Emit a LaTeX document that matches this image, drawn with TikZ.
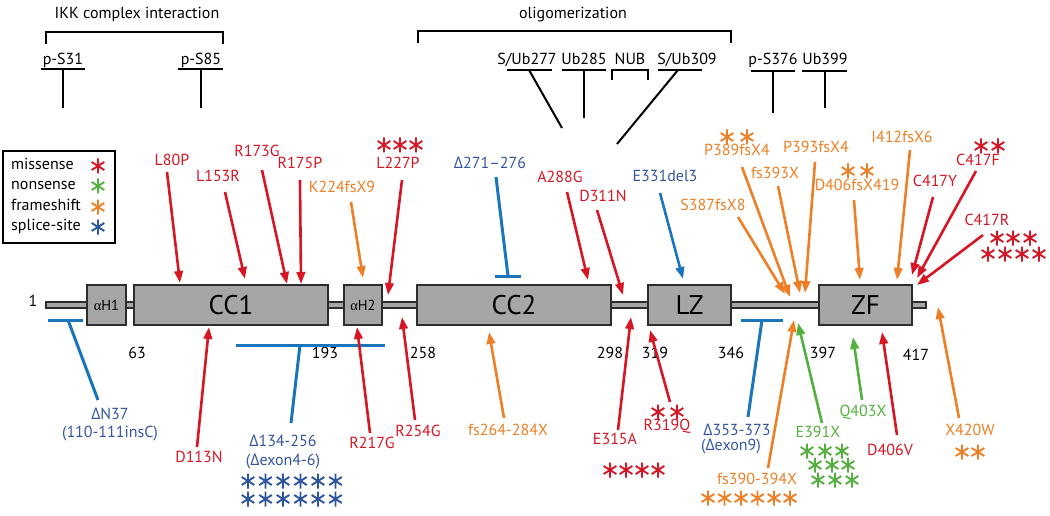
\documentclass[tikz,border=0pt]{standalone}
\usepackage{fontspec}
\setmainfont{PT Sans}
\newfontfamily\grk{Liberation Serif}
\newfontfamily\dfont{Open Sans}
\newcommand\Dl{{\dfont Δ}}
\usetikzlibrary{arrows.meta}
\definecolor{mred}{RGB}{214,22,36}
\definecolor{morange}{RGB}{238,127,38}
\definecolor{mgreen}{RGB}{84,176,62}
\definecolor{mblue}{RGB}{27,117,187}
\definecolor{mbtext}{RGB}{52,86,160}
\definecolor{mbast}{RGB}{45,85,155}
\definecolor{boxgray}{RGB}{166,166,166}
\definecolor{boxline}{RGB}{45,45,45}
% name, text colour, arrow colour, label position, text, start, end
\newcommand\mutarr[7]{%
  \node[lab,text=#2] (#1) at (#4) {#5};
  \coordinate (#1s) at (#6);
  \coordinate (#1e) at (#7);
  \draw[arr,#3] (#1s) -- (#1e);}
\newcommand\astrow[3]{\foreach \xx in {#3}{\pic[#1] at (\xx,#2) {ast};}}
\begin{document}
\begin{tikzpicture}[x=1pt,y=-1pt,
  lab/.style={font=\fontsize{16}{18}\selectfont, inner sep=0pt, text height=1.45ex, text depth=0.2ex},
  arr/.style={line width=2.6pt, -{Triangle[length=12pt,width=8.5pt]}},
  tline/.style={line width=3pt, draw=mblue},
  blk/.style={line width=2pt, draw=black},
  box/.style={draw=boxline, fill=boxgray, line width=1.2pt, inner sep=0pt, minimum height=40pt},
  ast/.pic={\draw[line width=1.9pt] (0,-7.5)--(0,7.5) (-6.3,-4)--(6.3,4) (-6.3,4)--(6.3,-4);}
]
\useasboundingbox (0,0) rectangle (1050,516);

% ---------- top annotations ----------
\node[lab] (ikk) at (137,15) {IKK complex interaction};
\coordinate (ikka) at (46,44); \coordinate (ikkb) at (223,44);
\draw[blk] (ikka) -- ++(0,-12) -| (ikkb);
\node[lab] (oli) at (573,15) {oligomerization};
\coordinate (olia) at (418,43); \coordinate (olib) at (731,43);
\draw[blk] (olia) -- ++(0,-12) -| (olib);

\node[lab] (ps31) at (63,61) {p-S31};
\draw[blk] (41,69) -- (85,69); \coordinate (ps31a) at (63,69); \coordinate (ps31b) at (63,108);
\draw[blk] (ps31a) -- (ps31b);
\node[lab] (ps85) at (201,61) {p-S85};
\draw[blk] (178,69) -- (223,69); \coordinate (ps85a) at (201,69); \coordinate (ps85b) at (201,108);
\draw[blk] (ps85a) -- (ps85b);

\node[lab] (sub277) at (527,61) {S/Ub277};
\draw[blk] (507,70) -- (552,70); \coordinate (sub277a) at (529,70); \coordinate (sub277b) at (562,128);
\draw[blk] (sub277a) -- (sub277b);
\node[lab] (ub285) at (584,61) {Ub285};
\draw[blk] (562,70) -- (606,70); \coordinate (ub285a) at (584,70); \coordinate (ub285b) at (584,118);
\draw[blk] (ub285a) -- (ub285b);
\node[lab] (nub) at (630,61) {NUB};
\draw[blk] (612,80) -- (612,70) -- (648,70) -- (648,80);
\node[lab] (sub309) at (687,61) {S/Ub309};
\draw[blk] (658,70) -- (702,70); \coordinate (sub309a) at (678,70); \coordinate (sub309b) at (617,144);
\draw[blk] (sub309a) -- (sub309b);
\node[lab] (ps376) at (773,61) {p-S376};
\draw[blk] (751,71) -- (795,71); \coordinate (ps376a) at (773,71); \coordinate (ps376b) at (773,113);
\draw[blk] (ps376a) -- (ps376b);
\node[lab] (ub399) at (825,61) {Ub399};
\draw[blk] (802,71) -- (847,71); \coordinate (ub399a) at (825,71); \coordinate (ub399b) at (825,108);
\draw[blk] (ub399a) -- (ub399b);

% ---------- legend ----------
\node[draw=black, line width=1.3pt, minimum width=112pt, minimum height=92pt, inner sep=0pt] (legend) at (59,197) {};
\node[lab, anchor=west] (lmis) at (11,166) {missense};
\node[lab, anchor=west] (lnon) at (11,186) {nonsense};
\node[lab, anchor=west] (lfra) at (11,207) {frameshift};
\node[lab, anchor=west] (lspl) at (11,227) {splice-site};
\pic[mred] at (98,166) {ast};
\pic[mgreen] at (98,186) {ast};
\pic[morange] at (98,207) {ast};
\pic[mbast] at (98,227) {ast};

% ---------- protein ----------
\node[draw=boxline, fill=boxgray, line width=1.1pt, inner sep=0pt, minimum width=880pt, minimum height=6pt] (bar) at (486,305) {};
\node[box, minimum width=39pt, font=\fontsize{14.5}{16}\selectfont] (ah1) at (106.5,305) {{\grk α}H1};
\node[box, minimum width=194pt, font=\fontsize{27}{30}\selectfont] (cc1) at (231,305) {CC1};
\node[box, minimum width=38pt, font=\fontsize{14.5}{16}\selectfont] (ah2) at (363,305) {{\grk α}H2};
\node[box, minimum width=194pt, font=\fontsize{27}{30}\selectfont] (cc2) at (514,305) {CC2};
\node[box, minimum width=83pt, font=\fontsize{27}{30}\selectfont] (lz) at (689.5,305) {LZ};
\node[box, minimum width=93pt, font=\fontsize{27}{30}\selectfont] (zf) at (865.5,305) {ZF};

\node[lab] (n1) at (33,303) {1};
\node[lab] (n63) at (137,355) {63};
\node[lab] (n193) at (325,355) {193};
\node[lab] (n258) at (423,355) {258};
\node[lab] (n298) at (610,355) {298};
\node[lab] (n319) at (655,355) {319};
\node[lab] (n346) at (731,355) {346};
\node[lab] (n397) at (823,355) {397};
\node[lab] (n417) at (916,357) {417};

% ---------- mutations above ----------
\mutarr{l80p}{mred}{mred}{172,162}{L80P}{167,172}{180,283}
\mutarr{l153r}{mred}{mred}{218,178}{L153R}{225,192}{245,279}
\mutarr{r173g}{mred}{mred}{257,153}{R173G}{262,170}{287,284}
\mutarr{r175p}{mred}{mred}{300,165}{R175P}{300,180}{301,284}
\mutarr{k224}{morange}{morange}{342,189}{K224fsX9}{351,202}{363,278}
\mutarr{l227p}{mred}{mred}{398,165}{L227P}{402,180}{388,295}
\astrow{mred}{145}{384,400,416}
\node[lab, text=mbtext] (d271) at (490,165) {\Dl271–276};
\coordinate (d271a) at (496,177); \coordinate (d271b) at (508,276);
\draw[tline] (d271a) -- (d271b);
\draw[tline] (495,276) -- (521,276);
\mutarr{a288g}{mred}{mred}{560,179}{A288G}{567,192}{588,280}
\mutarr{d311n}{mred}{mred}{603,198}{D311N}{597,210}{623,295}
\mutarr{e331}{mbtext}{mblue}{665,178}{E331del3}{660,193}{683,279}
\mutarr{s387}{morange}{morange}{713,207}{S387fsX8}{738,217}{785,294}
\mutarr{p389}{morange}{morange}{737,152}{P389fsX4}{742,167}{790,297}
\astrow{morange}{137}{727,747}
\mutarr{fs393}{morange}{morange}{775,175}{fs393X}{778,186}{800,293}
\mutarr{p393}{morange}{morange}{816,149}{P393fsX4}{815,162}{805,293}
\mutarr{d406fs}{morange}{morange}{857,187}{D406fsX419}{854,200}{860,280}
\astrow{morange}{171}{848,867}
\mutarr{i412}{morange}{morange}{902,139}{I412fsX6}{910,150}{897,280}
\mutarr{c417y}{mred}{mred}{935,183}{C417Y}{933,197}{912,275}
\mutarr{c417f}{mred}{mred}{978,162}{C417F}{976,171}{917,278}
\astrow{mred}{146}{981,998}
\mutarr{c417r}{mred}{mred}{987,222}{C417R}{983,235}{917,285}
\astrow{mred}{238}{997,1013,1030}
\astrow{mred}{254}{988,1005,1022,1039}

% ---------- mutations below ----------
\draw[tline] (48,320) -- (83,320);
\coordinate (dn37a) at (68,320); \coordinate (dn37b) at (98,400);
\draw[tline] (dn37a) -- (dn37b);
\node[lab, text=mbtext] (dn37) at (110,416) {\Dl N37};
\node[lab, text=mbtext] (dn37i) at (110,434) {(110-111insC)};

\mutarr{d113n}{mred}{mred}{199,459}{D113N}{197,447}{209,327}

\draw[tline] (236,345) -- (385,345);
\coordinate (d134a) at (300,345); \coordinate (d134b) at (291,423);
\draw[tline] (d134a) -- (d134b);
\node[lab, text=mbtext] (d134) at (283,443) {\Dl134-256};
\node[lab, text=mbtext] (d134e) at (283,462) {(\Dl exon4-6)};
\astrow{mbast}{481}{248,265.5,283,300.5,318,335.5}
\astrow{mbast}{499}{248,265.5,283,300.5,318,335.5}

\mutarr{r217g}{mred}{mred}{372,445}{R217G}{370,433}{357,327}
\mutarr{r254g}{mred}{mred}{418,433}{R254G}{415,420}{402,317}
\mutarr{fs264}{morange}{morange}{508,432}{fs264-284X}{504,418}{489,332}
\mutarr{e315a}{mred}{mred}{615,441}{E315A}{618,430}{631,317}
\astrow{mred}{470}{610,626,642,658}
\mutarr{r319q}{mred}{mred}{667,427}{R319Q}{670,402}{650,330}
\astrow{mred}{412}{658,677}

\draw[tline] (741,320) -- (783,320);
\coordinate (d353a) at (762,320); \coordinate (d353b) at (748,417);
\draw[tline] (d353a) -- (d353b);
\node[lab, text=mbtext] (d353) at (737,432) {\Dl353-373};
\node[lab, text=mbtext] (d353e) at (731,447) {(\Dl exon9)};

\mutarr{fs390}{morange}{morange}{757,481}{fs390-394X}{768,468}{794,320}
\astrow{morange}{498}{708,724.5,741,757.5,774,790}
\mutarr{e391x}{mgreen}{mgreen}{818,434}{E391X}{822,423}{798,323}
\astrow{mgreen}{451}{807,825,842}
\astrow{mgreen}{465}{815,832,848}
\astrow{mgreen}{480}{818,835,852}
\mutarr{q403x}{mgreen}{mgreen}{863,413}{Q403X}{862,400}{853,337}
\mutarr{d406v}{mred}{mred}{890,452}{D406V}{897,435}{882,332}
\mutarr{x420w}{morange}{morange}{970,432}{X420W}{959,418}{938,307}
\astrow{morange}{452}{962,978}
\end{tikzpicture}
\end{document}
